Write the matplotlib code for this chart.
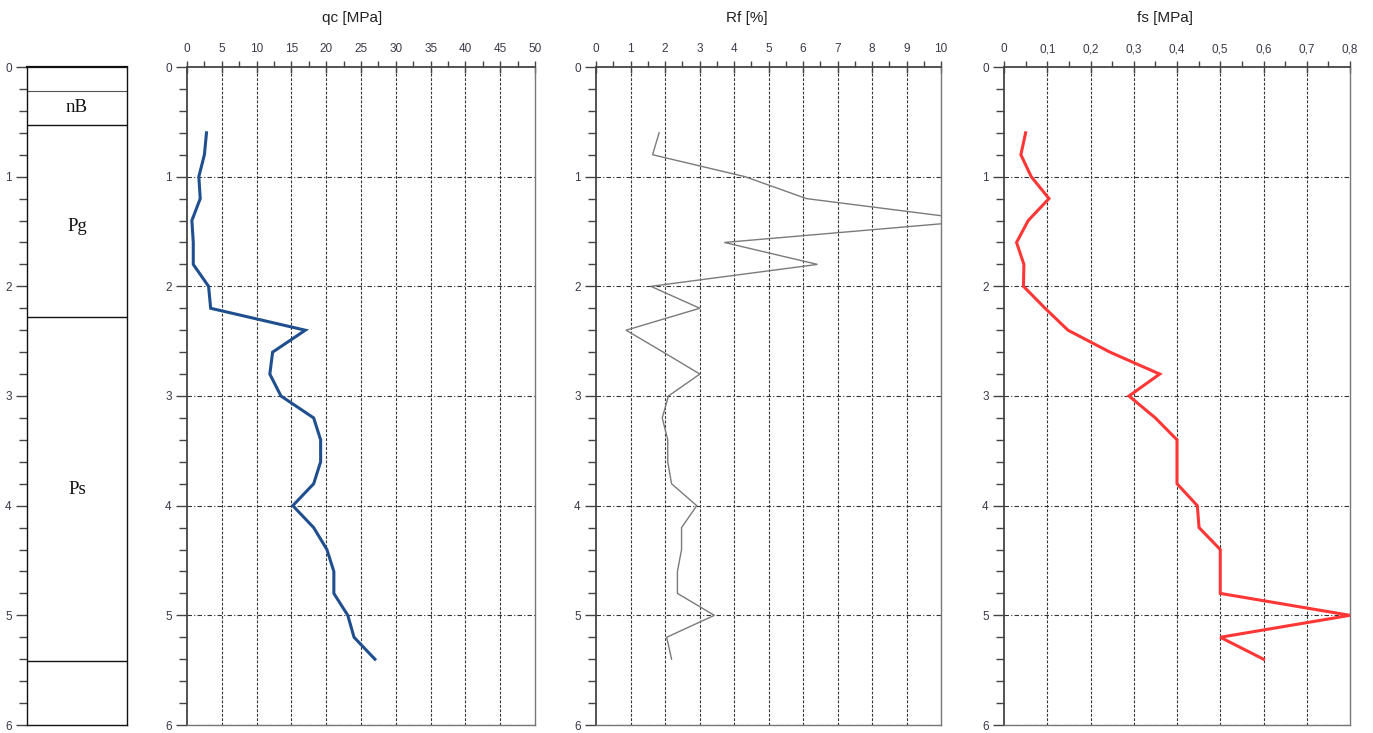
import matplotlib.pyplot as plt
from matplotlib.ticker import MultipleLocator, FixedLocator

# depth of each reading [m]
depth = [0.6, 0.8, 1.0, 1.2, 1.4, 1.6, 1.8, 2.0, 2.2, 2.4, 2.6, 2.8, 3.0,
         3.2, 3.4, 3.6, 3.8, 4.0, 4.2, 4.4, 4.6, 4.8, 5.0, 5.2, 5.4]

qc = [2.8, 2.5, 1.7, 1.9, 0.7, 0.9, 0.9, 3.1, 3.4, 17.0, 12.3, 11.9, 13.5,
      18.2, 19.2, 19.2, 18.2, 15.2, 18.2, 20.1, 21.1, 21.1, 23.1, 24.0, 27.0]

rf = [1.83, 1.64, 4.32, 6.1, 11.1, 3.72, 6.42, 1.59, 3.01, 0.87, 1.95, 3.01, 2.1,
      1.92, 2.08, 2.08, 2.19, 2.92, 2.48, 2.48, 2.36, 2.36, 3.43, 2.05, 2.19]

fs = [0.050, 0.039, 0.063, 0.104, 0.056, 0.029, 0.046, 0.045, 0.095, 0.148, 0.245, 0.36, 0.289,
      0.35, 0.40, 0.40, 0.40, 0.447, 0.451, 0.50, 0.50, 0.50, 0.80, 0.50, 0.60]

# soil layers: boundaries and names
layer_tops = [0.22, 0.53, 2.28, 5.42]
layer_names = ['nB', 'Pg', 'Ps']
layer_label_depth = [0.37, 1.45, 3.85]

qc_ticks = [0, 5, 10, 15, 20, 25, 30, 35, 40, 45, 50]
rf_ticks = [0, 1, 2, 3, 4, 5, 6, 7, 8, 9, 10]
fs_ticks = [0, 0.1, 0.2, 0.3, 0.4, 0.5, 0.6, 0.7, 0.8]
fs_labels = ['0', '0,1', '0,2', '0,3', '0,4', '0,5', '0,6', '0,7', '0,8']

plt.rcParams['font.family'] = ['Liberation Sans', 'DejaVu Sans']
tick_col = '#3a3a48'

fig = plt.figure(figsize=(13.73, 7.33), dpi=100)
W, H = 1373, 733
y_top, y_bot = 67, 725


def make_ax(x0, x1):
    return fig.add_axes([x0 / W, 1 - y_bot / H, (x1 - x0) / W, (y_bot - y_top) / H])


def depth_axis(ax):
    ax.set_ylim(6, 0)
    ax.yaxis.set_major_locator(MultipleLocator(1))
    ax.yaxis.set_minor_locator(MultipleLocator(0.2))
    ax.tick_params(axis='y', which='major', direction='out', length=8, width=1,
                   color='#444', labelsize=8.5, labelcolor=tick_col, pad=3)
    ax.tick_params(axis='y', which='minor', direction='out', length=6, width=1, color='#444')
    ax.yaxis.set_major_formatter(lambda v, p: f'{v:.0f}')


def log_panel(ax, x, vals, ticks, labels, xmax, color, lw, title, title_x):
    depth_axis(ax)
    ax.set_xlim(0, xmax)
    ax.xaxis.tick_top()
    ax.xaxis.set_major_locator(FixedLocator(ticks))
    ax.set_xticklabels(labels)
    step = ticks[1] - ticks[0]
    ax.xaxis.set_minor_locator(MultipleLocator(step / 2))
    ax.tick_params(axis='x', which='major', direction='inout', length=9, width=1,
                   color='#444', labelsize=8.5, labelcolor=tick_col, pad=4)
    ax.tick_params(axis='x', which='minor', direction='out', length=4, width=1, color='#444')
    for t in ticks[1:-1]:
        ax.axvline(t, color='#333', lw=0.8, ls=(0, (2.5, 1.5)), zorder=1)
    for d in range(1, 7):
        ax.axhline(d, color='#333', lw=0.8, ls=(0, (4, 2, 1, 2)), zorder=1)
    for s in ['top', 'left']:
        ax.spines[s].set_color('#444')
        ax.spines[s].set_linewidth(1.3)
    for s in ['right', 'bottom']:
        ax.spines[s].set_color('#777')
        ax.spines[s].set_linewidth(1)
    ax.plot(vals, x, color=color, lw=lw, zorder=3, solid_joinstyle='miter')
    fig.text(title_x / W, 1 - 18 / H, title, ha='center', va='center', fontsize=11, color='#222')


# soil profile column
ax0 = make_ax(27, 127)
depth_axis(ax0)
ax0.set_xlim(0, 1)
ax0.set_xticks([])
for s in ax0.spines.values():
    s.set_color('#111')
    s.set_linewidth(1)
ax0.spines['top'].set_linewidth(1.6)
for i, d in enumerate(layer_tops):
    ax0.axhline(d, color='#555' if i == 0 else '#111', lw=0.8 if i == 0 else 1)
for name, d in zip(layer_names, layer_label_depth):
    ax0.text(0.5, d, name, ha='center', va='center', fontsize=13.5,
             family='Liberation Serif', color='#111')

ax1 = make_ax(187, 535)
log_panel(ax1, depth, qc, qc_ticks, [str(t) for t in qc_ticks], 50,
          '#1f4f8e', 2.2, 'qc [MPa]', 352)

ax2 = make_ax(596, 941)
log_panel(ax2, depth, rf, rf_ticks, [str(t) for t in rf_ticks], 10,
          '#7a7a7a', 1.0, 'Rf [%]', 747)

ax3 = make_ax(1004, 1350)
log_panel(ax3, depth, fs, fs_ticks, fs_labels, 0.8,
          '#ff3636', 2.2, 'fs [MPa]', 1165)

fig.savefig('out.png', dpi=100)
